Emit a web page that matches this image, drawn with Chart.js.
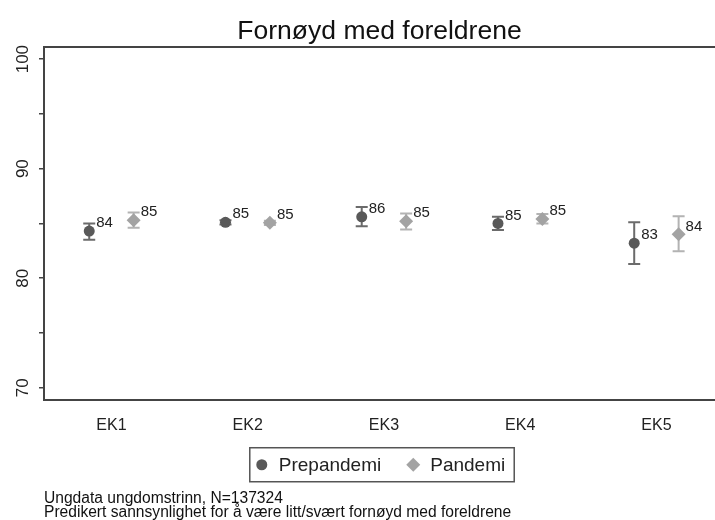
<!DOCTYPE html>
<html>
<head>
<meta charset="utf-8">
<script src="https://cdn.jsdelivr.net/npm/chart.js@4.4.0/dist/chart.umd.min.js"></script>
<style>
  html, body { margin: 0; padding: 0; background: #fff; }
  #wrap { width: 715px; height: 520px; }
</style>
</head>
<body>
<div id="wrap"><canvas id="foreldreChart" width="715" height="520"></canvas></div>
<script>
// Fornøyd med foreldrene - predikert sannsynlighet med konfidensintervall
const categories = ['EK1', 'EK2', 'EK3', 'EK4', 'EK5'];

const prepandemi     = [84.3, 85.1, 85.6, 85.0, 83.2];
const prepandemiLow  = [83.5, 84.9, 84.75, 84.4, 81.3];
const prepandemiHigh = [85.0, 85.3, 86.5, 85.6, 85.1];

const pandemi     = [85.3, 85.05, 85.2, 85.4, 84.0];
const pandemiLow  = [84.6, 84.85, 84.45, 85.0, 82.45];
const pandemiHigh = [86.0, 85.25, 85.9, 85.85, 85.65];

const yTicks = [70, 75, 80, 85, 90, 95, 100];
const footnote = [
  'Ungdata ungdomstrinn, N=137324',
  'Predikert sannsynlighet for å være litt/svært fornøyd med foreldrene'
];

const SHIFT = 0.163; // side offset of the two series within a category
const FRAME = '#444';
const FONT = '"Liberation Sans", Arial, sans-serif';

function toPoints(values, shift) {
  return values.map((v, i) => ({ x: i + 1 + shift, y: v }));
}

function marker(ctx, style, r, x, y, color) {
  ctx.fillStyle = color;
  ctx.beginPath();
  if (style === 'rectRot') {
    ctx.moveTo(x, y - r); ctx.lineTo(x + r, y); ctx.lineTo(x, y + r); ctx.lineTo(x - r, y);
    ctx.closePath();
  } else {
    ctx.arc(x, y, r, 0, Math.PI * 2);
  }
  ctx.fill();
}

// error bars, drawn under the markers
const errorBars = {
  id: 'errorBars',
  beforeDatasetsDraw(chart) {
    const ctx = chart.ctx;
    const y = chart.scales.y;
    chart.data.datasets.forEach((ds, di) => {
      const meta = chart.getDatasetMeta(di);
      ctx.save();
      ctx.strokeStyle = ds.barColor;
      ctx.lineWidth = 2;
      meta.data.forEach((pt, i) => {
        const top = y.getPixelForValue(ds.high[i]);
        const bot = y.getPixelForValue(ds.low[i]);
        ctx.beginPath();
        ctx.moveTo(pt.x, top); ctx.lineTo(pt.x, bot);
        ctx.moveTo(pt.x - 6, top); ctx.lineTo(pt.x + 6, top);
        ctx.moveTo(pt.x - 6, bot); ctx.lineTo(pt.x + 6, bot);
        ctx.stroke();
      });
      ctx.restore();
    });
  }
};

// rounded value next to every marker
const valueLabels = {
  id: 'valueLabels',
  afterDatasetsDraw(chart) {
    const ctx = chart.ctx;
    ctx.save();
    ctx.font = '15px ' + FONT;
    ctx.fillStyle = '#222';
    ctx.textAlign = 'left';
    ctx.textBaseline = 'middle';
    chart.data.datasets.forEach((ds, di) => {
      chart.getDatasetMeta(di).data.forEach((pt, i) => {
        ctx.fillText(String(Math.round(ds.data[i].y)), pt.x + 7, pt.y - 8);
      });
    });
    ctx.restore();
  }
};

// top frame line + boxed legend under the x axis
const frameAndLegend = {
  id: 'frameAndLegend',
  afterDraw(chart) {
    const ctx = chart.ctx;
    const a = chart.chartArea;
    ctx.save();
    ctx.strokeStyle = FRAME;
    ctx.lineWidth = 2;
    ctx.beginPath();
    ctx.moveTo(a.left - 1, a.top);
    ctx.lineTo(a.right, a.top);
    ctx.stroke();

    // legend
    ctx.font = '19px ' + FONT;
    ctx.textBaseline = 'middle';
    ctx.textAlign = 'left';
    const cy = chart.scales.x.top + 65;
    const items = chart.data.datasets.map(ds => ({
      ds, w: 17 + ctx.measureText(ds.label).width
    }));
    const gap = 32;
    const total = items.reduce((s, it) => s + it.w, 0) + gap * (items.length - 1);
    let x = (a.left + a.right) / 2 + 4 - total / 2;
    const boxL = x - 12, boxR = x + total + 9;
    items.forEach(it => {
      const r = it.ds.pointStyle === 'rectRot' ? 7 : 5.5;
      marker(ctx, it.ds.pointStyle, r, x, cy, it.ds.backgroundColor);
      ctx.fillStyle = '#222';
      ctx.fillText(it.ds.label, x + 17, cy + 1);
      x += it.w + gap;
    });
    ctx.strokeStyle = '#555';
    ctx.lineWidth = 1.5;
    ctx.strokeRect(boxL, cy - 17, boxR - boxL, 34);
    ctx.restore();
  }
};

const ctx = document.getElementById('foreldreChart').getContext('2d');
new Chart(ctx, {
  type: 'scatter',
  data: {
    datasets: [
      {
        label: 'Prepandemi',
        data: toPoints(prepandemi, -SHIFT),
        low: prepandemiLow,
        high: prepandemiHigh,
        pointStyle: 'circle',
        pointRadius: 5.5,
        backgroundColor: '#595959',
        borderWidth: 0,
        barColor: '#6b6b6b'
      },
      {
        label: 'Pandemi',
        data: toPoints(pandemi, SHIFT),
        low: pandemiLow,
        high: pandemiHigh,
        pointStyle: 'rectRot',
        pointRadius: 7,
        backgroundColor: '#a3a3a3',
        borderWidth: 0,
        barColor: '#b3b3b3'
      }
    ]
  },
  options: {
    responsive: false,
    animation: false,
    events: [],
    layout: { padding: 0, autoPadding: false },
    scales: {
      x: {
        type: 'linear',
        min: 0.505,
        max: 5.43,
        afterBuildTicks: scale => { scale.ticks = categories.map((c, i) => ({ value: i + 1 })); },
        afterFit: scale => {
          scale.height = 88;
          scale.paddingLeft = 0;
          scale.paddingRight = 0;
        },
        grid: { display: false },
        border: { display: true, color: FRAME, width: 2 },
        ticks: {
          padding: 8,
          color: '#222',
          font: { family: FONT, size: 16 },
          callback: v => categories[v - 1] || ''
        }
      },
      y: {
        min: 68.9,
        max: 101.1,
        afterBuildTicks: scale => { scale.ticks = yTicks.map(v => ({ value: v })); },
        afterFit: scale => {
          scale.width = 44;
          scale.paddingTop = 0;
          scale.paddingBottom = 0;
        },
        grid: { drawOnChartArea: false, drawTicks: true, tickLength: 5, color: FRAME, lineWidth: 1.5 },
        border: { display: true, color: FRAME, width: 2 },
        ticks: {
          autoSkip: false,
          minRotation: 90,
          maxRotation: 90,
          crossAlign: 'center',
          padding: 2,
          color: '#222',
          font: { family: FONT, size: 17 },
          callback: v => (v % 10 === 0 ? v : '')
        }
      }
    },
    plugins: {
      tooltip: { enabled: false },
      legend: { display: false },
      title: {
        display: true,
        text: 'Fornøyd med foreldrene',
        fullSize: false,
        color: '#111',
        font: { family: FONT, size: 26.5, weight: 'normal' },
        padding: { top: 15.3, bottom: 0 }
      },
      subtitle: {
        display: true,
        position: 'bottom',
        align: 'start',
        fullSize: false,
        text: footnote,
        color: '#111',
        font: { family: FONT, size: 15.6, lineHeight: 0.88 },
        padding: { top: 4, bottom: 0.8 }
      }
    }
  },
  plugins: [errorBars, valueLabels, frameAndLegend]
});
</script>
</body>
</html>
